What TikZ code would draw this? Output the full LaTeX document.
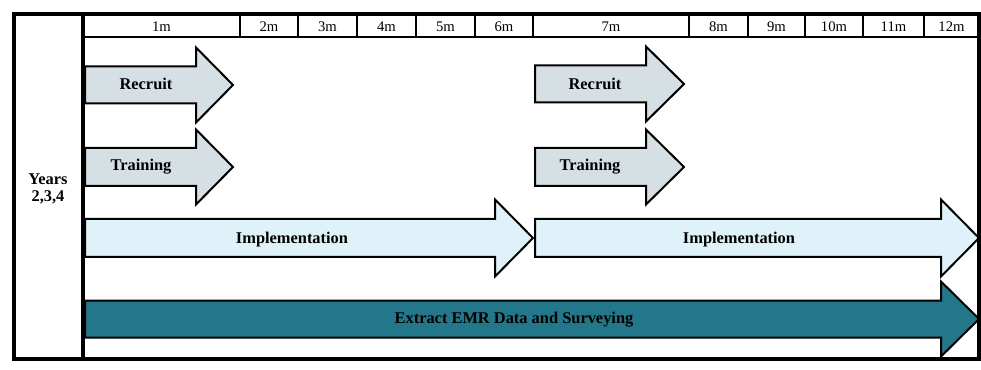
\documentclass[tikz,border=0pt]{standalone}
\usepackage{fontspec}
\setmainfont{Liberation Serif}
\begin{document}
\begin{tikzpicture}[x=0.75pt,y=-0.75pt,
  frameline/.style={line width=2.4pt,draw=black},
  gridline/.style={line width=2.2pt,draw=black},
  blockarrow/.style={draw=black,line width=1.5pt,line join=miter},
  greyfill/.style={fill=arrowgrey},
  palefill/.style={fill=arrowpale},
  tealfill/.style={fill=arrowteal},
  monthlabel/.style={font=\fontsize{11pt}{12pt}\selectfont,anchor=center,inner sep=0pt},
  tasklabel/.style={font=\fontsize{12.3pt}{13pt}\selectfont\bfseries,anchor=center,inner sep=0pt},
]
\definecolor{arrowgrey}{HTML}{D6DFE4}
\definecolor{arrowpale}{HTML}{DFF1F9}
\definecolor{arrowteal}{HTML}{22788A}

% block arrow: #1 style, #2 tail x, #3 head start x, #4 tip x, #5 centre y, #6 half body, #7 half head
\newcommand\blockarr[7]{%
  \draw[blockarrow,#1] (#2,#5-#6) -- (#3,#5-#6) -- (#3,#5-#7) -- (#4,#5)
    -- (#3,#5+#7) -- (#3,#5+#6) -- (#2,#5+#6) -- cycle;}

\useasboundingbox (0,0) rectangle (981,370);

% task arrows
\blockarr{greyfill}{85}{196}{233}{85}{18.5}{37.5}
\blockarr{greyfill}{85}{196}{233}{167}{19}{37.5}
\blockarr{greyfill}{535}{646}{684}{84}{18.5}{37.5}
\blockarr{greyfill}{535}{646}{684}{167}{19}{37.5}
\blockarr{palefill}{85}{495}{533}{238}{19}{38.5}
\blockarr{palefill}{535}{941}{979}{238}{19}{38.5}
\blockarr{tealfill}{85}{941}{979}{319}{18.5}{37.5}

\node[tasklabel] (rec1) at (146,84) {Recruit};
\node[tasklabel] (tra1) at (141,167) {Training};
\node[tasklabel] (rec2) at (595,84) {Recruit};
\node[tasklabel] (tra2) at (590,167) {Training};
\node[tasklabel] (imp1) at (292,240) {Implementation};
\node[tasklabel] (imp2) at (739,240) {Implementation};
\node[tasklabel] (emr) at (514,320) {Extract EMR Data and Surveying};

% frame and header grid
\draw[frameline] (14,14) rectangle (979,359);
\draw[frameline] (83,14) -- (83,359);
\draw[gridline] (83,37) -- (979,37);
\foreach \xd in {240,298,357,416,475,533,689,748,805,863,924}
  \draw[gridline] (\xd,14) -- (\xd,37);

% month labels
\foreach \xa/\xb/\lab in {83/240/1m,240/298/2m,298/357/3m,357/416/4m,416/475/5m,
  475/533/6m,533/689/7m,689/748/8m,748/805/9m,805/863/10m,863/924/11m,924/979/12m}
  \node[monthlabel] (m\lab) at ({(\xa+\xb)/2},26.5) {\lab};

\node[tasklabel,align=center] (years) at (48,189) {Years\\2,3,4};
\end{tikzpicture}
\end{document}
